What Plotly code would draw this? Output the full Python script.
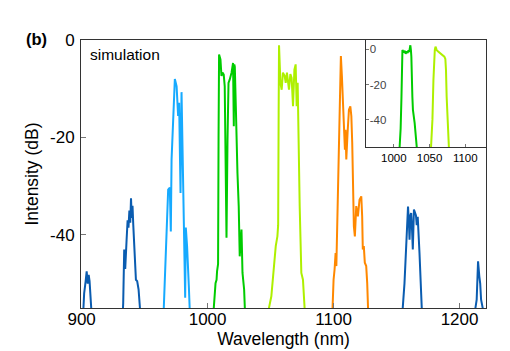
import plotly.graph_objects as go

# ---------------- data (wavelength nm, intensity dB) ----------------
blue1_nm = [900.5, 902.0, 903.2, 904.0, 904.8, 905.6, 906.3, 907.0, 907.8, 908.8]
blue1_db = [-60, -52, -49.5, -47.5, -50, -48.2, -49.5, -52, -55, -60]

blue2_nm = [932.0, 933.0, 933.8, 934.6, 935.7, 936.5, 937.2, 937.9, 938.6, 939.2, 939.8,
            940.4, 941.0, 941.6, 942.3, 943.1, 944.1, 945.2, 946.3, 947.0]
blue2_db = [-60, -54, -43, -47, -41, -37, -38.5, -35, -37.5, -32.5, -36.5,
            -34, -38, -40.5, -43.7, -49.2, -49.5, -51.2, -55, -60]

sky_nm = [964.5, 965.3, 966.9, 968.7, 970.0, 970.8, 971.4, 972.7, 974.0, 975.4, 976.6, 977.4,
          978.5, 979.3, 979.8, 980.6, 981.4, 982.2, 982.7, 983.7, 985.1, 985.9, 986.5]
sky_db = [-60, -55, -45, -30.7, -30.3, -39.3, -24.5, -14.3, -8.0, -9.5, -15.6, -12.9,
          -31.4, -10.7, -17.7, -24.5, -38.2, -52.9, -38.5, -42.3, -50.5, -54.7, -60]

green_nm = [1004.5, 1004.9, 1006.3, 1007.1, 1007.5, 1008.3, 1008.7, 1009.1, 1010.2, 1011.0,
            1011.8, 1012.8, 1013.6, 1014.3, 1015.0, 1015.8, 1016.6, 1017.6, 1019.0, 1020.2,
            1020.8, 1021.2, 1021.6, 1022.4, 1022.9, 1023.7, 1024.7, 1025.5, 1026.9, 1027.7,
            1029.0, 1029.7, 1030.3]
green_db = [-60, -55, -49.9, -49.2, -47.5, -46, -20, -3.0, -4.0, -7.4,
            -6.7, -7.1, -9.5, -25, -40.6, -20.4, -8.8, -8.1, -6.7, -4.7,
            -17.7, -5.0, -5.5, -13.6, -20.4, -27.3, -34.1, -44.4, -38.9, -47.8,
            -51.2, -54.7, -60]

lime_nm = [1048.3, 1048.7, 1050.6, 1052.5, 1054.1, 1055.4, 1056.0, 1056.4, 1056.7, 1057.8,
           1058.8, 1059.8, 1061.2, 1062.0, 1063.0, 1063.8, 1064.6, 1065.7, 1066.7, 1067.8,
           1068.9, 1069.9, 1070.7, 1071.5, 1072.0, 1073.1, 1074.4, 1075.7, 1077.0, 1077.5]
lime_db = [-60, -55, -52.6, -46.4, -42.3, -40.3, -38, -15, -1.1, -8.8,
           -10.2, -6.7, -7.4, -8.8, -6.7, -8.5, -10.2, -7.0, -7.8, -13.6,
           -6.1, -5.0, -13.6, -8.8, -20.4, -34.1, -47.8, -49.2, -55, -60]

orange_nm = [1098.5, 1099.0, 1100.0, 1100.8, 1101.6, 1102.2, 1103.0, 1104.0, 1104.8, 1105.8,
             1106.6, 1107.4, 1108.2, 1109.0, 1109.5, 1110.1, 1111.1, 1112.2, 1113.3, 1114.1,
             1114.8, 1115.3, 1116.1, 1116.9, 1118.0, 1119.3, 1120.6, 1122.0, 1122.7, 1123.2,
             1124.0, 1124.8, 1125.9, 1126.7, 1127.5, 1128.0]
orange_db = [-60, -55, -49.2, -47.1, -43.7, -46.4, -36.2, -22.5, -12.2, -3.3,
             -7.4, -12.2, -18.4, -22.5, -18.4, -24.5, -19.1, -14.3, -13.6, -15.6,
             -21.1, -28.0, -38.2, -40.3, -34.1, -36.2, -32.8, -32.1, -36.2, -43.0,
             -42.3, -45.7, -46.4, -49.9, -55, -60]

blue3_nm = [1154.5, 1154.9, 1156.3, 1157.6, 1158.4, 1159.1, 1159.8, 1160.3, 1161.0, 1161.6,
            1162.3, 1162.9, 1163.8, 1164.5, 1165.4, 1166.0, 1166.8, 1168.2, 1169.5, 1170.3, 1170.8]
blue3_db = [-60, -55, -49.9, -41, -36.5, -34.2, -37.5, -41, -36, -35.5,
            -39, -43, -34.8, -35.5, -36, -38, -36.3, -43.7, -52.6, -55, -60]

blue4_nm = [1212.0, 1212.6, 1213.6, 1214.7, 1215.7, 1216.4, 1217.1, 1218.4, 1219.0]
blue4_db = [-60, -55, -53.3, -45.4, -48.5, -50, -53.3, -55, -60]

# inset (measured spectra)
in_green_nm = [1007.5, 1008.2, 1009.5, 1010.6, 1011.5, 1012.0, 1013.5, 1015.2, 1016.5, 1018.0,
               1019.3, 1020.5, 1021.5, 1022.3, 1023.1, 1024.0, 1024.5, 1025.9, 1026.7, 1029.1,
               1031.4, 1032.3, 1033.0]
in_green_db = [-60, -55, -45, -28, -8, -0.4, -1.8, -0.8, -2.5, -1.2,
               -2.0, -0.5, -1.5, 0.5, 2.3, -1.0, -4.2, -26.8, -34.4, -41.9,
               -51.4, -55, -60]

in_lime_nm = [1051.5, 1052.2, 1054.0, 1055.4, 1056.5, 1057.3, 1058.3, 1060.0, 1062.0, 1064.0,
              1066.0, 1068.0, 1069.5, 1070.7, 1072.1, 1073.0, 1073.9, 1075.3, 1076.7, 1077.5]
in_lime_db = [-60, -55, -40, -17.4, -5, -0.4, 1.5, -0.5, -1.2, -2.0,
              -2.8, -3.2, -3.8, -4.2, -5.5, -12, -26.8, -45.7, -55, -60]

x_ticks = [900, 1000, 1100, 1200]
y_ticks = [0, -20, -40]
y_ticktext = ["0", "-20", "-40"]
inset_x_ticks = [1000, 1050, 1100]

DARK_BLUE = "#0a5cb0"
SKY = "#16aaff"
GREEN = "#00cc00"
LIME = "#aef000"
ORANGE = "#ff8800"

FONT = "Liberation Sans, Arial, Helvetica, sans-serif"

fig = go.Figure()

main_series = [
    (blue1_nm, blue1_db, DARK_BLUE),
    (blue2_nm, blue2_db, DARK_BLUE),
    (sky_nm, sky_db, SKY),
    (green_nm, green_db, GREEN),
    (lime_nm, lime_db, LIME),
    (orange_nm, orange_db, ORANGE),
    (blue3_nm, blue3_db, DARK_BLUE),
    (blue4_nm, blue4_db, DARK_BLUE),
]
for xs, ys, c in main_series:
    fig.add_trace(go.Scatter(x=xs, y=ys, mode="lines", line=dict(color=c, width=2),
                             showlegend=False, hoverinfo="skip", xaxis="x", yaxis="y"))

for xs, ys, c in [(in_green_nm, in_green_db, GREEN), (in_lime_nm, in_lime_db, LIME)]:
    fig.add_trace(go.Scatter(x=xs, y=ys, mode="lines", line=dict(color=c, width=2),
                             showlegend=False, hoverinfo="skip", xaxis="x2", yaxis="y2"))

axis_common = dict(showgrid=False, zeroline=False, showline=True, linecolor="#333333",
                   linewidth=1, ticks="inside", tickcolor="#777777")

fig.update_layout(
    width=510, height=351,
    margin=dict(l=81, r=24, t=40, b=43, autoexpand=False),
    paper_bgcolor="white", plot_bgcolor="white",
    font=dict(family=FONT, color="black"),
    xaxis=dict(**axis_common, domain=[0, 1], range=[899.5, 1221], mirror=True,
               tickvals=x_ticks, ticklen=5, tickfont=dict(size=17), ticklabelstandoff=-4,
               title=dict(text="Wavelength (nm)", font=dict(size=17.5), standoff=0)),
    yaxis=dict(**axis_common, domain=[0, 1], range=[-55, 0], mirror=True,
               tickvals=y_ticks, ticktext=y_ticktext, ticklen=5, tickfont=dict(size=17),
               ticklabelstandoff=2,
               title=dict(text="Intensity (dB)", font=dict(size=17.5), standoff=6)),
    xaxis2=dict(**axis_common, domain=[0.7037, 1], anchor="y2", range=[961, 1129],
                tickvals=inset_x_ticks, ticklen=3, tickfont=dict(size=11.5)),
    yaxis2=dict(**axis_common, domain=[0.6005, 1], anchor="x2", range=[-55.6, 5.3],
                tickvals=y_ticks, ticktext=y_ticktext, ticklen=3,
                ticklabelposition="inside", tickfont=dict(size=11.5)),
    annotations=[
        dict(text="<b>(b)</b>", xref="paper", yref="paper", x=-0.11, y=1.002,
             xanchor="center", yanchor="middle", showarrow=False, font=dict(size=16.5)),
        dict(text="simulation", xref="paper", yref="paper", x=0.018, y=0.946,
             xanchor="left", yanchor="middle", showarrow=False, font=dict(size=15.5)),
    ],
)

fig.write_html("out.html")
